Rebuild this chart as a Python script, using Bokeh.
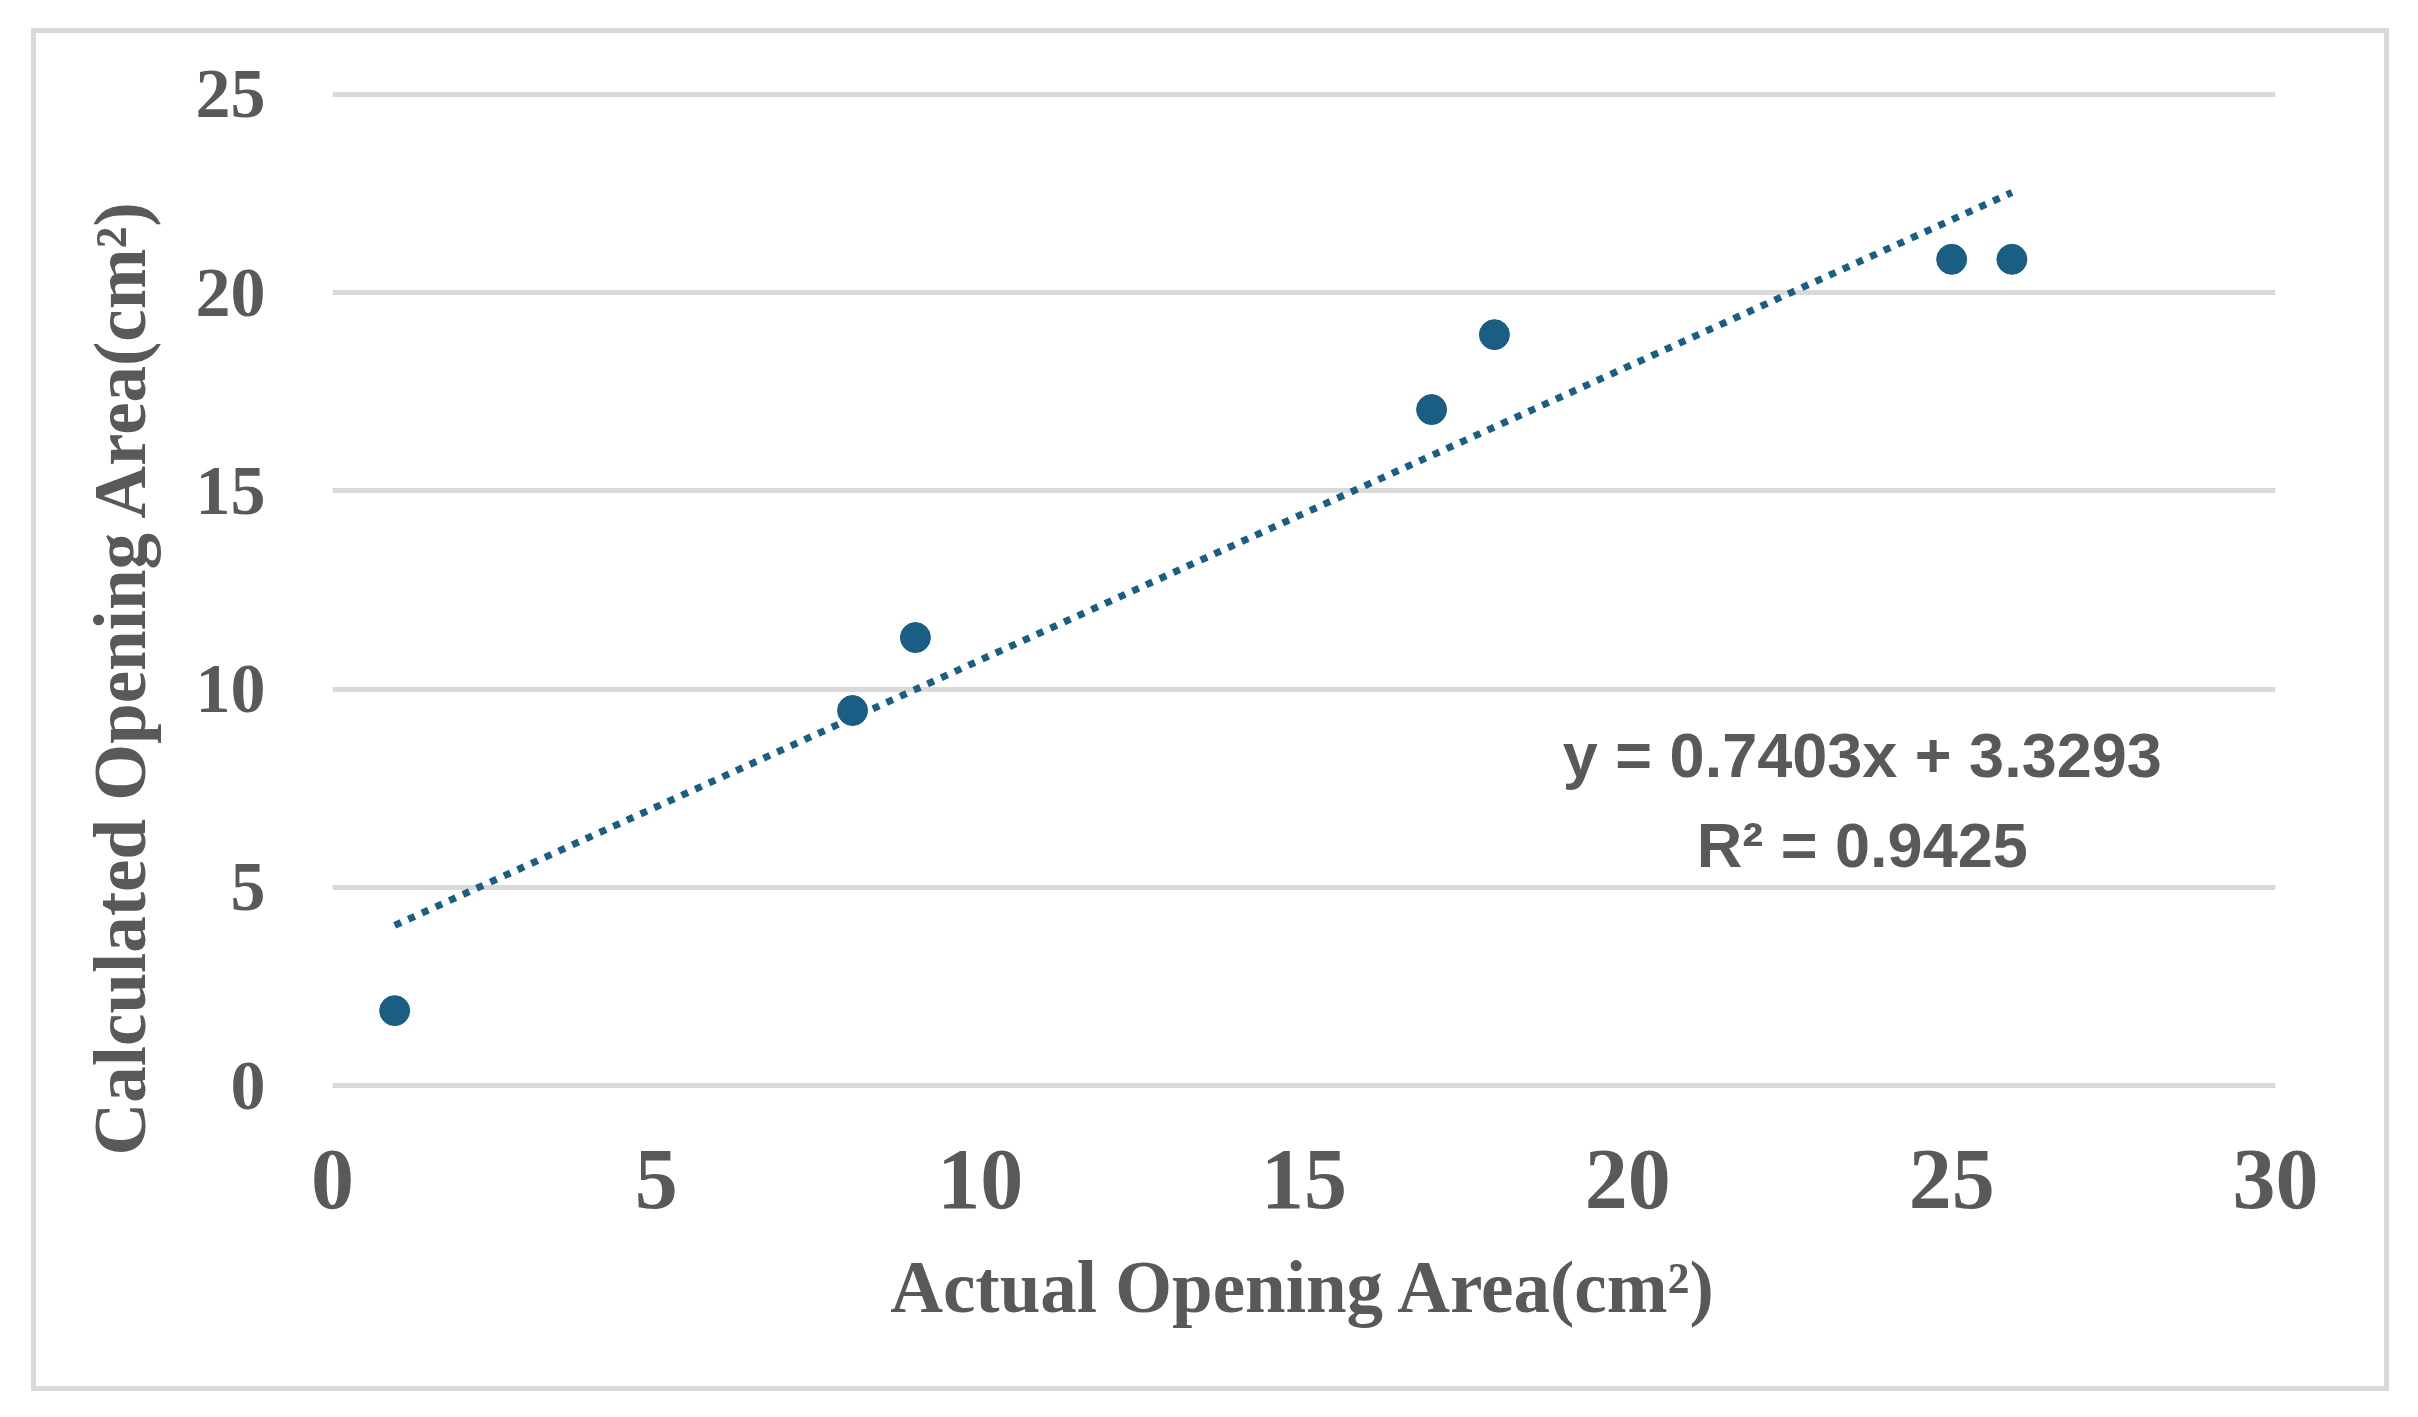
import numpy as np
from bokeh.plotting import figure
from bokeh.models import Range1d, FixedTicker, Title, ColumnDataSource
from bokeh.core.properties import value
from bokeh.embed import file_html
from bokeh.resources import INLINE

# ---- data ----
actual_area = [0.96, 8.03, 9.0, 16.97, 17.94, 25.0, 25.93]
calculated_area = [1.89, 9.46, 11.3, 17.05, 18.94, 20.84, 20.84]
fit_slope = 0.7403
fit_intercept = 3.3293
r_squared = 0.9425
x_ticks = [0, 5, 10, 15, 20, 25, 30]
y_ticks = [0, 5, 10, 15, 20, 25]
x_title = "Actual Opening Area(cm²)"
y_title = "Calculated Opening Area(cm²)"

# ---- styling ----
GREY = "#595959"
BLUE = "#1a5e83"
GRID = "#d9d9d9"
SERIF = "Liberation Serif"
SANS = "Liberation Sans"

p = figure(width=2358, height=1363, output_backend="svg", toolbar_location=None,
           x_range=Range1d(0, 30), y_range=Range1d(-0.3, 25.3),
           min_border_left=296, min_border_right=119,
           min_border_top=49, min_border_bottom=299,
           margin=(28, 0, 0, 31))
p.styles = {"border": "5px solid #d9d9d9"}
p.outline_line_color = None
p.background_fill_color = "white"
p.border_fill_color = "white"

p.xgrid.visible = False
p.ygrid.grid_line_color = GRID
p.ygrid.grid_line_width = 5

for ax in (p.xaxis[0], p.yaxis[0]):
    ax.axis_line_color = None
    ax.major_tick_line_color = None
    ax.minor_tick_line_color = None
    ax.major_label_text_font = SERIF
    ax.major_label_text_font_style = "bold"
    ax.major_label_text_color = GREY

p.xaxis.major_label_text_font_size = "86px"
p.yaxis.major_label_text_font_size = "70px"
p.xaxis.ticker = FixedTicker(ticks=x_ticks)
p.yaxis.ticker = FixedTicker(ticks=y_ticks)
p.xaxis.major_label_standoff = 47
p.yaxis.major_label_standoff = 61

p.xaxis.axis_label = x_title
p.xaxis.axis_label_text_font = SERIF
p.xaxis.axis_label_text_font_style = "bold"
p.xaxis.axis_label_text_font_size = "73px"
p.xaxis.axis_label_text_color = GREY
p.xaxis.axis_label_standoff = 36

yt = Title(text=y_title, align="left", offset=-58, vertical_align="top",
           text_font=SERIF, text_font_style="bold", text_font_size="73px",
           text_color=GREY, standoff=60)
p.add_layout(yt, "left")

# points
src = ColumnDataSource(dict(x=actual_area, y=calculated_area))
p.scatter("x", "y", source=src, size=30, fill_color=BLUE, line_color=BLUE)

# linear trendline from the stated fit
xs = np.array([min(actual_area), max(actual_area)])
ys = fit_slope * xs + fit_intercept
p.line(xs, ys, line_color=BLUE, line_width=7, line_dash="7 8")

# equation annotation
eq_lines = [f"y = {fit_slope}x + {fit_intercept}", f"R² = {r_squared}"]
p.text(x=[23.62, 23.62], y=[8.35, 6.08], text=eq_lines,
       text_font=value(SANS), text_font_style="bold", text_font_size="63px",
       text_color=GREY, text_align="center", text_baseline="alphabetic")

open("out.html", "w").write(file_html(p, INLINE))
